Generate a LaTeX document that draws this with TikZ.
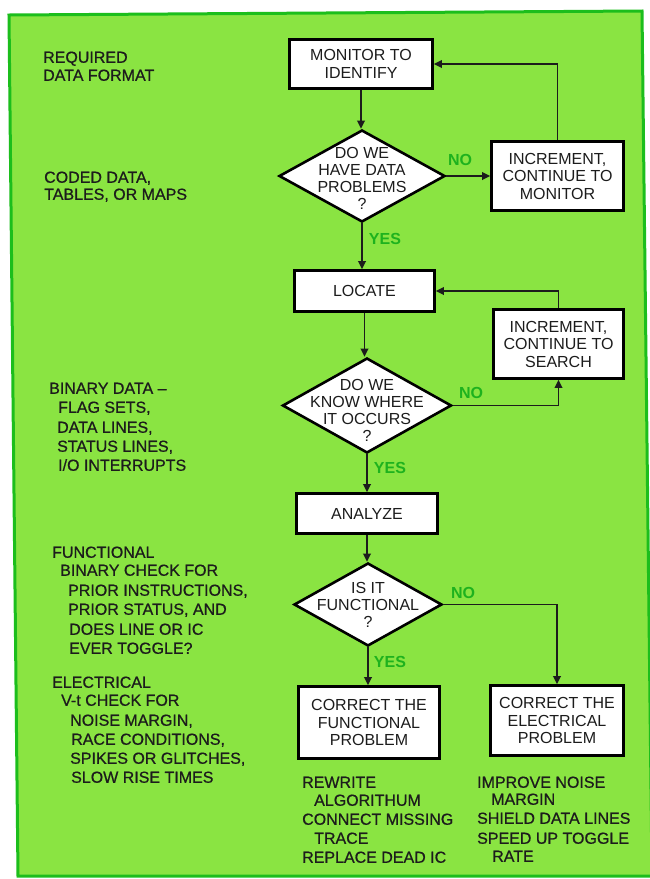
\documentclass[tikz,border=0pt]{standalone}
\usepackage{fontspec}
\setmainfont{Liberation Sans}
\newfontfamily\notefont{Liberation Sans}[FakeBold=0.7]
\usetikzlibrary{shapes.geometric,arrows.meta}
\definecolor{panel}{RGB}{138,228,66}
\definecolor{edge}{RGB}{28,190,28}
\definecolor{lbl}{RGB}{30,178,30}
\definecolor{ink}{RGB}{28,28,28}
\begin{document}
\begin{tikzpicture}[x=1pt,y=-1pt,
 every node/.style={inner sep=0pt, text=ink},
 stepbox/.style={draw=black, fill=white, line width=2.6pt, rectangle, align=center, font=\fontsize{16}{17.5}\selectfont},
 decbox/.style={draw=black, fill=white, line width=2.6pt, diamond},
 dtext/.style={align=center, font=\fontsize{16}{17}\selectfont},
 lt/.style={anchor=west, font=\notefont\fontsize{16}{19}\selectfont, text height=11.5pt, text depth=0pt},
 yn/.style={text=lbl, font=\bfseries\fontsize{16}{19}\selectfont, text height=11.5pt, text depth=0pt},
 flow/.style={draw=ink, line width=1.8pt, -{Triangle[length=8pt,width=7.5pt]}},
]
\useasboundingbox (0,0) rectangle (649,879);
\fill[white] (0,0) rectangle (649,879);
\draw[edge, fill=panel, line width=3pt] (9,15) -- (642,11) -- (652,876) -- (18,876) -- cycle;

% flow boxes
\node[stepbox, minimum width=143, minimum height=49] (mon) at (361,64) {MONITOR TO\\IDENTIFY};
\node[stepbox, minimum width=132, minimum height=69] (inc1) at (557.5,176) {INCREMENT,\\CONTINUE TO\\MONITOR};
\node[stepbox, minimum width=140, minimum height=41] (locate) at (364.5,291) {LOCATE};
\node[stepbox, minimum width=130, minimum height=69] (inc2) at (558.5,344) {INCREMENT,\\CONTINUE TO\\SEARCH};
\node[stepbox, minimum width=141, minimum height=40] (analyze) at (367,513.5) {ANALYZE};
\node[stepbox, minimum width=141, minimum height=72] (cf) at (369,722.5) {CORRECT THE\\FUNCTIONAL\\PROBLEM};
\node[stepbox, minimum width=133, minimum height=70] (ce) at (557,720.5) {CORRECT THE\\ELECTRICAL\\PROBLEM};

% decisions
\node[decbox, minimum width=166, minimum height=92] (d1) at (362,176) {};
\node[dtext] (d1t) at (362,178) {DO WE\\HAVE DATA\\PROBLEMS\\?};
\node[decbox, minimum width=169, minimum height=95] (d2) at (367,405.5) {};
\node[dtext] (d2t) at (367,410) {DO WE\\KNOW WHERE\\IT OCCURS\\?};
\node[decbox, minimum width=148, minimum height=83] (d3) at (368,604.5) {};
\node[dtext] (d3t) at (368,605) {IS IT\\FUNCTIONAL\\?};

% connectors
\draw[flow] (mon.south) -- (mon.south |- d1.north);
\draw[flow] (d1.south) -- (d1.south |- locate.north);
\draw[flow] (d1.east) -- (inc1.west |- d1.east);
\draw[flow] (inc1.north) |- (mon.east);
\draw[flow] (locate.south) -- (locate.south |- d2.north);
\draw[flow] (d2.east) -| (inc2.south);
\draw[flow] (inc2.north) |- (locate.east);
\draw[flow] (d2.south) -- (d2.south |- analyze.north);
\draw[flow] (analyze.south) -- (analyze.south |- d3.north);
\draw[flow] (d3.south) -- (d3.south |- cf.north);
\draw[flow] (d3.east) -| (ce.north);

% yes / no labels
\node[yn] (no1) at (460,160) {NO};
\node[yn] (yes1) at (385,239) {YES};
\node[yn] (no2) at (471,393) {NO};
\node[yn] (yes2) at (390,468) {YES};
\node[yn] (no3) at (463,593) {NO};
\node[yn] (yes3) at (390,662) {YES};

% left notes
\node[lt] (a1) at (43,57) {REQUIRED};
\node[lt] (a2) at (43,75) {DATA FORMAT};
\node[lt] (b1) at (44,177) {CODED DATA,};
\node[lt] (b2) at (44,194) {TABLES, OR MAPS};
\node[lt] (c1) at (49,388) {BINARY DATA –};
\node[lt] (c2) at (58,407) {FLAG SETS,};
\node[lt] (c3) at (57,427) {DATA LINES,};
\node[lt] (c4) at (57,446) {STATUS LINES,};
\node[lt] (c5) at (58,465) {I/O INTERRUPTS};
\node[lt] (e1) at (52,552) {FUNCTIONAL};
\node[lt] (e2) at (60,570) {BINARY CHECK FOR};
\node[lt] (e3) at (68,590) {PRIOR INSTRUCTIONS,};
\node[lt] (e4) at (68,609) {PRIOR STATUS, AND};
\node[lt] (e5) at (69,629) {DOES LINE OR IC};
\node[lt] (e6) at (69,648) {EVER TOGGLE?};
\node[lt] (f1) at (52,682) {ELECTRICAL};
\node[lt] (f2) at (61,700) {V-t CHECK FOR};
\node[lt] (f3) at (70,720) {NOISE MARGIN,};
\node[lt] (f4) at (71,739) {RACE CONDITIONS,};
\node[lt] (f5) at (70,758) {SPIKES OR GLITCHES,};
\node[lt] (f6) at (71,777) {SLOW RISE TIMES};

% bottom notes
\node[lt] (g1) at (302,782) {REWRITE};
\node[lt] (g2) at (314,800) {ALGORITHUM};
\node[lt] (g3) at (302,819) {CONNECT MISSING};
\node[lt] (g4) at (314,838) {TRACE};
\node[lt] (g5) at (302,857) {REPLACE DEAD IC};
\node[lt] (h1) at (477,782) {IMPROVE NOISE};
\node[lt] (h2) at (491,799) {MARGIN};
\node[lt] (h3) at (477,818) {SHIELD DATA LINES};
\node[lt] (h4) at (477,838) {SPEED UP TOGGLE};
\node[lt] (h5) at (492,856) {RATE};
\end{tikzpicture}
\end{document}
